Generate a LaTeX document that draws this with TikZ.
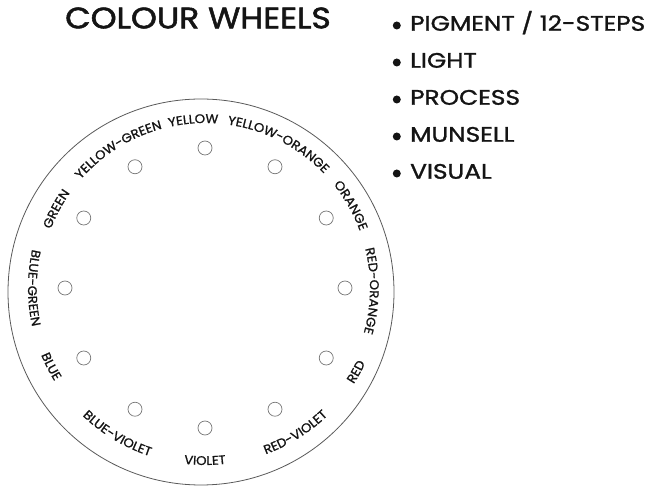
\documentclass[tikz,border=0pt]{standalone}
\usepackage{fontspec}
\setmainfont{Poppins}
\newfontfamily\headfont{Poppins}[FakeStretch=1.12,FakeBold=1.8]
\newfontfamily\listfont{Poppins}[FakeStretch=1.18,FakeBold=1.4]
\newfontfamily\rimfont{Poppins}[FakeStretch=1.06,FakeBold=1.1]
\usetikzlibrary{positioning,decorations.text}
\definecolor{InkBlack}{RGB}{20,20,20}
\definecolor{PencilGrey}{RGB}{90,90,90}
\definecolor{DotGrey}{RGB}{120,120,120}
\newcommand{\wheelfont}{\rimfont\fontsize{12.5}{14}\selectfont}

\begin{document}
\begin{tikzpicture}[x=1pt,y=1pt,
    heading/.style={font=\headfont\fontsize{29.5}{32}\selectfont,text=InkBlack,inner sep=0pt},
    item/.style={font=\listfont\fontsize{21}{23}\selectfont,text=InkBlack,inner sep=0pt,
                 text height=14.5pt,text depth=0pt},
    bullet/.style={circle,fill=InkBlack,inner sep=0pt,minimum size=8pt},
    swatch/.style={circle,draw=DotGrey,line width=0.7pt,inner sep=0pt,minimum size=14pt},
    outlabel/.style={decorate,decoration={text along path,text align=center,
                     text color=InkBlack,text={|\wheelfont|#1}}},
    inlabel/.style={outlabel=#1}]
  \useasboundingbox (0,0) rectangle (654,490);

  % title and list
  \node[heading] (title) at (198,472) {COLOUR WHEELS};
  \node[item,anchor=west] (pigment) at (410,466.5) {PIGMENT / 12-STEPS};
  \node[item,below=37pt of pigment.west,anchor=west] (light) {LIGHT};
  \node[item,below=37pt of light.west,anchor=west] (process) {PROCESS};
  \node[item,below=37pt of process.west,anchor=west] (munsell) {MUNSELL};
  \node[item,below=37pt of munsell.west,anchor=west] (visual) {VISUAL};
  \foreach \w in {pigment,light,process,munsell,visual}
    \node[bullet,left=9pt of \w.west,yshift=-2pt] (dot-\w) {};

  % the wheel
  \node[circle,draw=PencilGrey,line width=0.8pt,minimum size=386pt] (wheel) at (201,198) {};
  \coordinate (hub) at (205,202);
  \foreach \n [count=\i from 0] in {yellow,yelloworange,orange,redorange,red,redviolet,
                                    violet,blueviolet,blue,bluegreen,green,yellowgreen}
    \node[swatch] (\n) at ([shift={(hub)}]90-30*\i:140) {};

  % names round the rim
  \path[outlabel=GREEN] ([shift={(hub)}]192:165) arc[start angle=192,end angle=112,radius=165pt];
  \path[outlabel=YELLOW-GREEN] ([shift={(hub)}]162:165) arc[start angle=162,end angle=82,radius=165pt];
  \path[outlabel=YELLOW] ([shift={(hub)}]134:165) arc[start angle=134,end angle=54,radius=165pt];
  \path[outlabel=YELLOW-ORANGE] ([shift={(hub)}]103:165) arc[start angle=103,end angle=23,radius=165pt];
  \path[outlabel=ORANGE] ([shift={(hub)}]69.5:165) arc[start angle=69.5,end angle=-10.5,radius=165pt];
  \path[outlabel=RED-ORANGE] ([shift={(hub)}]39:165) arc[start angle=39,end angle=-41,radius=165pt];
  \path[inlabel=RED] ([shift={(hub)}]-69:177) arc[start angle=-69,end angle=11,radius=177pt];
  \path[inlabel=RED-VIOLET] ([shift={(hub)}]-98:177) arc[start angle=-98,end angle=-18,radius=177pt];
  \path[inlabel=VIOLET] ([shift={(hub)}]-130:177) arc[start angle=-130,end angle=-50,radius=177pt];
  \path[inlabel=BLUE-VIOLET] ([shift={(hub)}]-161:177) arc[start angle=-161,end angle=-81,radius=177pt];
  \path[inlabel=BLUE] ([shift={(hub)}]167:177) arc[start angle=167,end angle=247,radius=177pt];
  \path[inlabel=BLUE-GREEN] ([shift={(hub)}]140:177) arc[start angle=140,end angle=220,radius=177pt];
\end{tikzpicture}
\end{document}
